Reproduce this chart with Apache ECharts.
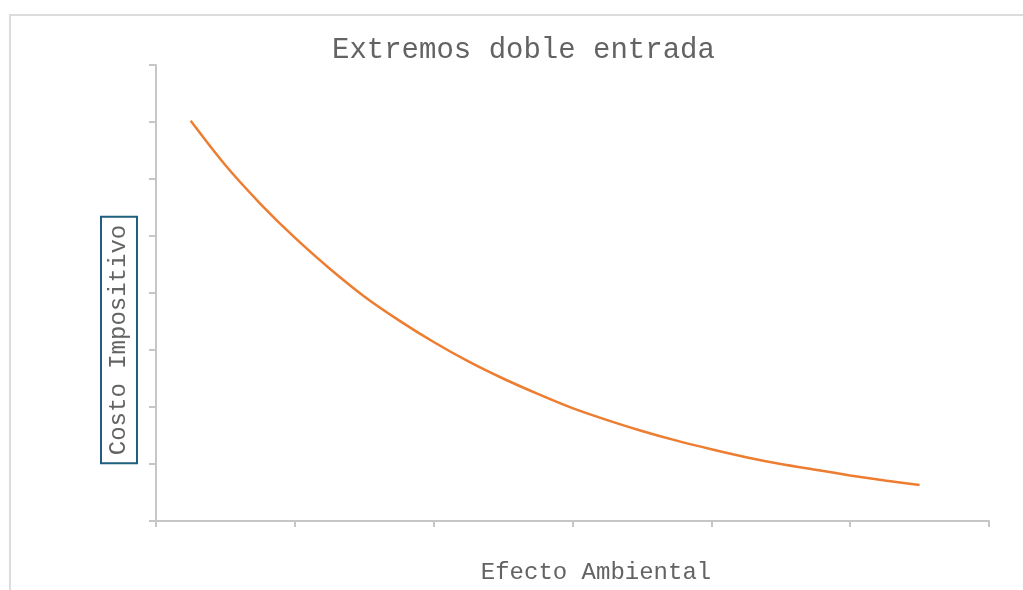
<!DOCTYPE html>
<html>
<head>
<meta charset="utf-8">
<script src="https://cdn.jsdelivr.net/npm/echarts@6/dist/echarts.min.js"></script>
<style>
  html, body { margin: 0; padding: 0; background: #fff; }
  #chart { width: 1023px; height: 590px; }
</style>
</head>
<body>
<div id="chart"></div>
<script>
// Data
var efectoAmbiental = [0.25, 0.5, 0.75, 1, 1.25, 1.5, 1.75, 2, 2.25, 2.5, 2.75, 3,
    3.25, 3.5, 3.75, 4, 4.25, 4.5, 4.75, 5, 5.25, 5.5];
var costoImpositivo = [7.02, 6.24, 5.57, 4.97, 4.43, 3.94, 3.52, 3.14, 2.80, 2.50, 2.23, 1.98,
    1.77, 1.58, 1.41, 1.26, 1.12, 1.00, 0.90, 0.80, 0.71, 0.63];

var mono = "'Courier New', 'Liberation Mono', monospace";
var textGray = '#636363';
var axisGray = '#c6c6c6';

var chartDom = document.getElementById('chart');
var myChart = echarts.init(chartDom);

var points = efectoAmbiental.map(function (x, i) {
    return [x, costoImpositivo[i]];
});

var option = {
    animation: false,
    title: {
        text: 'Extremos doble entrada',
        left: 332,
        top: 36,
        padding: 0,
        textStyle: {
            fontFamily: mono,
            fontSize: 29,
            fontWeight: 'normal',
            color: textGray
        }
    },
    grid: {
        left: 156,
        top: 65,
        right: 34,
        bottom: 69
    },
    xAxis: {
        type: 'value',
        min: 0,
        max: 6,
        interval: 1,
        name: 'Efecto Ambiental',
        nameLocation: 'middle',
        nameGap: 40,
        nameTextStyle: {
            fontFamily: mono,
            fontSize: 24,
            color: textGray,
            padding: [0, 0, 0, 47]
        },
        axisLine: { show: true, lineStyle: { color: axisGray, width: 2 } },
        axisTick: { show: true, length: 6, lineStyle: { color: axisGray, width: 2 } },
        axisLabel: { show: false },
        splitLine: { show: false }
    },
    yAxis: {
        type: 'value',
        min: 0,
        max: 8,
        interval: 1,
        axisLine: { show: true, lineStyle: { color: axisGray, width: 2 } },
        axisTick: { show: true, length: 7, lineStyle: { color: axisGray, width: 2 } },
        axisLabel: { show: false },
        splitLine: { show: false }
    },
    graphic: [
        {
            // outer frame, only top and left edges visible
            type: 'rect',
            shape: { x: 10, y: 15, width: 1100, height: 700 },
            style: { fill: null, stroke: '#dcdcdc', lineWidth: 2 },
            silent: true
        },
        {
            // boxed y axis title
            type: 'text',
            x: 119,
            y: 340,
            rotation: Math.PI / 2,
            style: {
                text: 'Costo Impositivo',
                font: '24px ' + mono,
                fill: textGray,
                align: 'center',
                verticalAlign: 'middle',
                padding: [6, 8, 6, 8],
                borderColor: '#1f5f7e',
                borderWidth: 2
            }
        }
    ],
    series: [
        {
            type: 'line',
            data: points,
            smooth: 0.3,
            showSymbol: false,
            lineStyle: { color: '#ed7d31', width: 2.5 },
            itemStyle: { color: '#ed7d31' }
        }
    ]
};

myChart.setOption(option);
</script>
</body>
</html>
